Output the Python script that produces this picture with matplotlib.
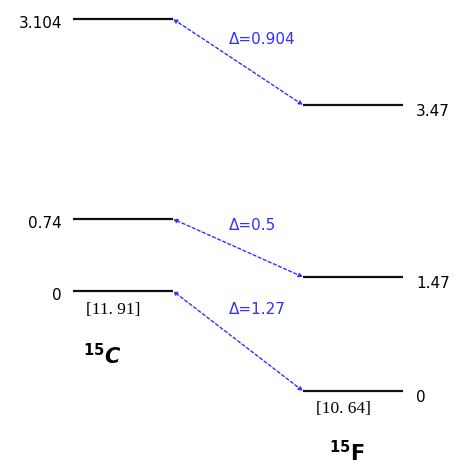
import matplotlib
matplotlib.use("Agg")
import matplotlib.pyplot as plt

# Data
c_levels = ["3.104", "0.74", "0"]          # 15C excitation energies (MeV)
f_levels = ["3.47", "1.47", "0"]           # 15F excitation energies (MeV)
deltas = ["0.904", "0.5", "1.27"]          # level shifts
c_binding = "[11. 91]"
f_binding = "[10. 64]"
nuclei = ["C", "F"]
mass = "15"

# Schematic layout (pixel-like coordinates)
c_pos = [19, 219, 291]
f_pos = [105, 277, 391]
c_x = (73, 173)
f_x = (303, 403)

fig = plt.figure(figsize=(4.6, 4.66), dpi=100)
ax = fig.add_axes([0, 0, 1, 1])
ax.set_xlim(0, 460)
ax.set_ylim(466, 0)
ax.axis("off")

blue = "#3030ff"
for lab, y in zip(c_levels, c_pos):
    ax.plot(c_x, [y, y], color="#111111", lw=1.6, solid_capstyle="butt")
    ax.text(62, y + 5, lab, ha="right", va="center", fontsize=11, family="DejaVu Sans")
for lab, y in zip(f_levels, f_pos):
    ax.plot(f_x, [y, y], color="#111111", lw=1.6, solid_capstyle="butt")
    ax.text(416, y + 6, lab, ha="left", va="center", fontsize=11, family="DejaVu Sans")

delta_y = [40, 225, 310]
for d, yc, yf, ty in zip(deltas, c_pos, f_pos, delta_y):
    ax.annotate("", xy=(c_x[1], yc), xytext=(f_x[0], yf),
                arrowprops=dict(arrowstyle="<|-|>", color=blue, lw=1.0,
                                linestyle=(0, (2.2, 1.8)), shrinkA=0, shrinkB=0,
                                mutation_scale=6, fill=True))
    ax.text(229, ty, "\u0394=" + d, ha="left", va="center", fontsize=11,
            color=blue, family="DejaVu Sans")

ax.text(113, c_pos[-1] + 19, c_binding, ha="center", va="center", fontsize=12.5,
        family="Liberation Serif")
ax.text(343, f_pos[-1] + 18, f_binding, ha="center", va="center", fontsize=12.5,
        family="Liberation Serif")

ax.text(102, 356, r"$^{\mathbf{" + mass + "}}$" + nuclei[0], ha="center", va="center",
        fontsize=15, fontweight="bold", fontstyle="italic", family="DejaVu Sans")
ax.text(347, 453, r"$^{\mathbf{" + mass + "}}$" + nuclei[1], ha="center", va="center",
        fontsize=15, fontweight="bold", family="DejaVu Sans")

fig.savefig("out.png", dpi=100)
